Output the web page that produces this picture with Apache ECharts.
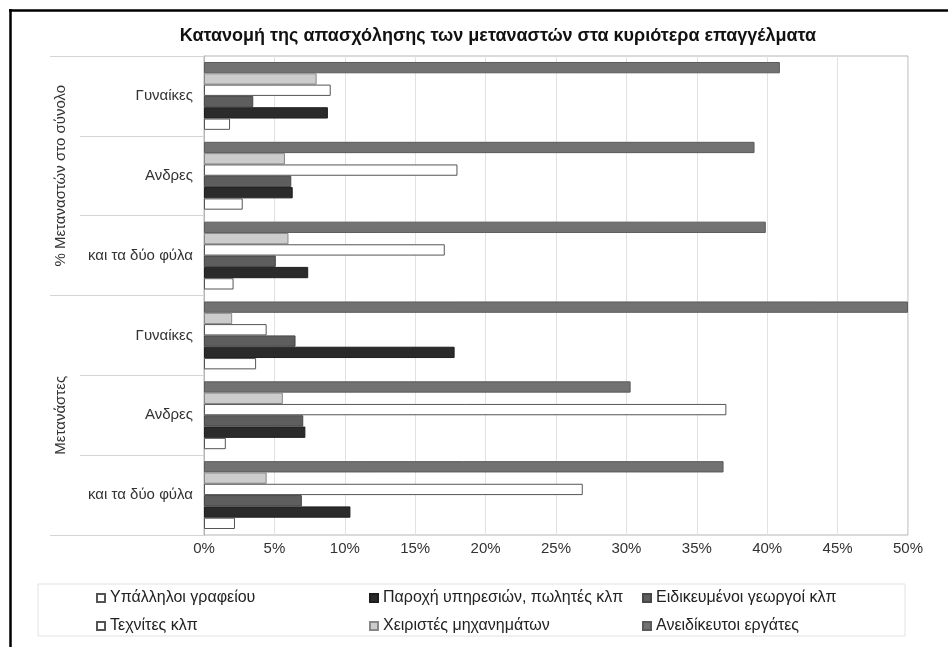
<!DOCTYPE html>
<html>
<head>
<meta charset="utf-8">
<script src="https://cdn.jsdelivr.net/npm/echarts@6/dist/echarts.min.js"></script>
<style>html,body{margin:0;padding:0;background:#fff}#c{width:948px;height:647px}</style>
</head>
<body>
<div id="c"></div>
<script>
// Categories, bottom to top (unique keys, label = text before '|')
const categories = ['και τα δύο φύλα|m', 'Ανδρες|m', 'Γυναίκες|m', 'και τα δύο φύλα|p', 'Ανδρες|p', 'Γυναίκες|p'];
const groupLabels = ['Μετανάστες', '% Μεταναστών στο σύνολο'];
const xTicks = [0, 5, 10, 15, 20, 25, 30, 35, 40, 45, 50];

const seriesNames = ['Υπάλληλοι γραφείου', 'Παροχή υπηρεσιών, πωλητές κλπ', 'Ειδικευμένοι γεωργοί κλπ',
                     'Τεχνίτες κλπ', 'Χειριστές μηχανημάτων', 'Ανειδίκευτοι εργάτες'];
const ypallhloi    = [2.2, 1.55, 3.7, 2.1, 2.75, 1.85];
const paroxh       = [10.4, 7.2, 17.8, 7.4, 6.3, 8.8];
const eidikeumenoi = [6.95, 7.05, 6.5, 5.1, 6.2, 3.5];
const texnites     = [26.9, 37.1, 4.45, 17.1, 18.0, 9.0];
const xeiristes    = [4.45, 5.6, 2.0, 6.0, 5.75, 8.0];
const aneidikeutoi = [36.9, 30.3, 50, 39.9, 39.1, 40.9];

const styles = [
  {color: '#ffffff', borderColor: '#555555', borderWidth: 1},
  {color: '#2b2b2b', borderColor: '#1e1e1e', borderWidth: 1},
  {color: '#5e5e5e', borderColor: '#474747', borderWidth: 1},
  {color: '#ffffff', borderColor: '#555555', borderWidth: 1},
  {color: '#cccccc', borderColor: '#888888', borderWidth: 1},
  {color: '#727272', borderColor: '#5a5a5a', borderWidth: 1}
];
const values = [ypallhloi, paroxh, eidikeumenoi, texnites, xeiristes, aneidikeutoi];

// ECharts places horizontal bars top-down in series order, so reverse to put first legend item at bottom
const series = [];
for (let i = values.length - 1; i >= 0; i--) {
  series.push({
    name: seriesNames[i], type: 'bar', data: values[i],
    barGap: '0%', barCategoryGap: '15%',
    itemStyle: styles[i], emphasis: {disabled: true}
  });
}

const font = 'Liberation Sans, Arial, sans-serif';
const chart = echarts.init(document.getElementById('c'));
chart.setOption({
  animation: false,
  backgroundColor: '#ffffff',
  title: {
    text: 'Κατανομή της απασχόλησης των μεταναστών στα κυριότερα επαγγέλματα',
    left: 493, textAlign: 'center', top: 22,
    textStyle: {fontFamily: font, fontSize: 18, fontWeight: 'bold', color: '#111'}
  },
  legend: {
    data: seriesNames, left: 96, top: 589, width: 840,
    orient: 'horizontal', itemWidth: 8, itemHeight: 8, itemGap: 10, icon: 'rect',
    textStyle: {fontFamily: font, fontSize: 16, color: '#222', width: 249, lineHeight: 18},
    padding: 0
  },
  grid: {left: 204, right: 40, top: 56, bottom: 112, show: true, borderColor: '#b5b5b5', borderWidth: 1, containLabel: false},
  xAxis: {
    type: 'value', min: 0, max: 50, interval: 5,
    axisLine: {show: false}, axisTick: {show: false},
    splitLine: {show: true, lineStyle: {color: '#e2e2e2'}},
    axisLabel: {formatter: v => v + '%', fontFamily: font, fontSize: 15, color: '#333', margin: 6}
  },
  yAxis: [{
    type: 'category', data: categories,
    axisLine: {show: true, lineStyle: {color: '#b5b5b5'}},
    axisTick: {show: true, length: 124, lineStyle: {color: '#d5d5d5'}},
    axisLabel: {formatter: v => v.split('|')[0], fontFamily: font, fontSize: 15, color: '#333', margin: 11}
  }, {
    type: 'category', data: groupLabels, position: 'left',
    axisLine: {show: false},
    axisTick: {show: true, length: 154, lineStyle: {color: '#d5d5d5'}},
    axisLabel: {rotate: 90, fontFamily: font, fontSize: 15, color: '#333', margin: 136}
  }],
  graphic: [
    {type: 'rect', shape: {x: 38, y: 584, width: 867, height: 52}, style: {fill: 'none', stroke: '#e2e2e2', lineWidth: 1}, silent: true, z: -1},
    {type: 'line', shape: {x1: 9, y1: 10.5, x2: 948, y2: 10.5}, style: {stroke: '#000', lineWidth: 2.5}, silent: true},
    {type: 'line', shape: {x1: 10.5, y1: 9, x2: 10.5, y2: 647}, style: {stroke: '#000', lineWidth: 2.5}, silent: true}
  ],
  series: series
});
</script>
</body>
</html>
